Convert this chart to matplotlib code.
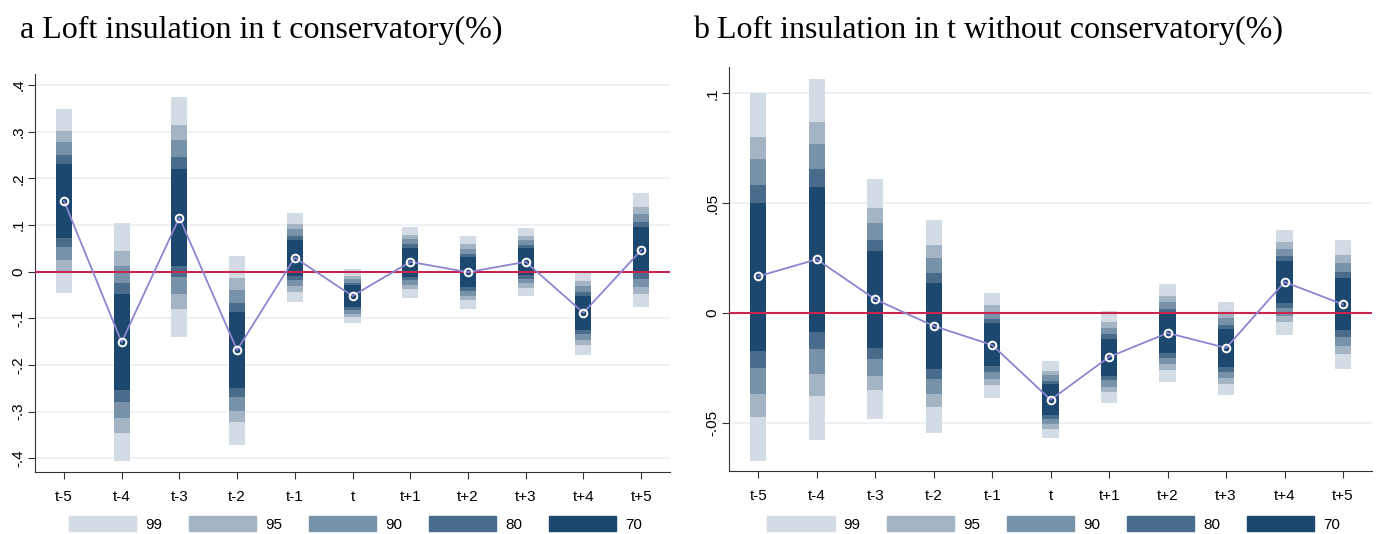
import numpy as np
import matplotlib
matplotlib.use('Agg')
from matplotlib import pyplot as plt
from matplotlib.patches import Patch

periods = ['t-5', 't-4', 't-3', 't-2', 't-1', 't', 't+1', 't+2', 't+3', 't+4', 't+5']
levels = ['99', '95', '90', '80', '70']

# panel a: point estimates and (low, high) for each confidence level
a_coef = [0.152, -0.151, 0.116, -0.168, 0.030, -0.052, 0.021, -0.001, 0.021, -0.088, 0.046]
a_hi = {
    '99': [0.349, 0.104, 0.374, 0.034, 0.126, 0.006, 0.096, 0.076, 0.094, 0.001, 0.169],
    '95': [0.301, 0.044, 0.314, -0.014, 0.102, -0.009, 0.079, 0.059, 0.076, -0.020, 0.139],
    '90': [0.278, 0.012, 0.282, -0.039, 0.091, -0.016, 0.070, 0.049, 0.068, -0.031, 0.124],
    '80': [0.250, -0.024, 0.246, -0.067, 0.076, -0.024, 0.059, 0.038, 0.057, -0.044, 0.106],
    '70': [0.231, -0.048, 0.220, -0.086, 0.068, -0.029, 0.051, 0.031, 0.051, -0.052, 0.096],
}
a_lo = {
    '99': [-0.045, -0.406, -0.141, -0.371, -0.065, -0.110, -0.056, -0.080, -0.052, -0.179, -0.076],
    '95': [0.001, -0.346, -0.080, -0.322, -0.044, -0.097, -0.037, -0.061, -0.035, -0.157, -0.048],
    '90': [0.025, -0.314, -0.048, -0.299, -0.031, -0.091, -0.029, -0.052, -0.024, -0.146, -0.033],
    '80': [0.053, -0.279, -0.011, -0.269, -0.018, -0.082, -0.018, -0.041, -0.016, -0.134, -0.016],
    '70': [0.072, -0.254, 0.012, -0.249, -0.009, -0.076, -0.011, -0.033, -0.007, -0.125, -0.003],
}

# panel b
b_coef = [0.0167, 0.0244, 0.0062, -0.0059, -0.0146, -0.0395, -0.0200, -0.0091, -0.0159, 0.0141, 0.0039]
b_hi = {
    '99': [0.1002, 0.1065, 0.0610, 0.0423, 0.0091, -0.0219, 0.0009, 0.0132, 0.0050, 0.0378, 0.0332],
    '95': [0.0801, 0.0870, 0.0478, 0.0310, 0.0036, -0.0264, -0.0041, 0.0077, 0.0000, 0.0323, 0.0264],
    '90': [0.0701, 0.0769, 0.0410, 0.0250, 0.0005, -0.0282, -0.0068, 0.0050, -0.0023, 0.0291, 0.0228],
    '80': [0.0583, 0.0656, 0.0332, 0.0182, -0.0027, -0.0310, -0.0096, 0.0018, -0.0055, 0.0259, 0.0187],
    '70': [0.0501, 0.0574, 0.0282, 0.0137, -0.0046, -0.0323, -0.0118, 0.0000, -0.0073, 0.0237, 0.0159],
}
b_lo = {
    '99': [-0.0674, -0.0578, -0.0483, -0.0546, -0.0387, -0.0569, -0.0410, -0.0314, -0.0373, -0.0100, -0.0255],
    '95': [-0.0473, -0.0378, -0.0351, -0.0428, -0.0328, -0.0528, -0.0360, -0.0259, -0.0323, -0.0041, -0.0187],
    '90': [-0.0369, -0.0278, -0.0287, -0.0369, -0.0300, -0.0505, -0.0337, -0.0232, -0.0296, -0.0014, -0.0150],
    '80': [-0.0250, -0.0164, -0.0209, -0.0300, -0.0269, -0.0483, -0.0305, -0.0205, -0.0269, 0.0023, -0.0109],
    '70': [-0.0173, -0.0086, -0.0159, -0.0255, -0.0241, -0.0464, -0.0287, -0.0182, -0.0246, 0.0046, -0.0077],
}

colors = {'99': '#d3dbe4', '95': '#a4b4c4', '90': '#7892aa', '80': '#496c8d', '70': '#1c476f'}

tick_font = ['Liberation Sans Narrow', 'Liberation Sans', 'DejaVu Sans']
title_font = ['Liberation Serif', 'DejaVu Serif']


def draw_panel(ax, coef, lo, hi, yticks, ylabels, ylim):
    x = np.arange(len(periods))
    for lev in levels:
        lo_v = np.array(lo[lev])
        hi_v = np.array(hi[lev])
        ax.bar(x, hi_v - lo_v, bottom=lo_v, width=0.28, color=colors[lev],
               label=lev, zorder=2, linewidth=0)
    ax.axhline(0, color='#c8264f', lw=1.5, zorder=3)
    ax.plot(x, coef, '-', color='#8c85d0', lw=1.3, zorder=4)
    ax.plot(x, coef, 'o', ms=5.5, mfc='none', mec='white', mew=1.4, zorder=5)
    ax.set_xlim(-0.5, 10.5)
    ax.set_ylim(*ylim)
    ax.set_xticks(x)
    ax.set_xticklabels(periods, family=tick_font, fontsize=11)
    ax.set_yticks(yticks)
    ax.set_yticklabels(ylabels, rotation=90, va='center', family=tick_font, fontsize=11)
    ax.grid(axis='y', color='#eaf1f4', lw=1.3, zorder=0)
    ax.set_axisbelow(True)
    ax.spines['top'].set_visible(False)
    ax.spines['right'].set_visible(False)
    ax.spines['left'].set_color('#333333')
    ax.spines['bottom'].set_color('#333333')
    ax.tick_params(axis='x', length=5, color='#333333', pad=8)
    ax.tick_params(axis='y', length=5, color='#333333', pad=2)
    handles = [Patch(color=colors[l], label=l) for l in levels]
    ax.legend(handles=handles, loc='center', bbox_to_anchor=(0.505, -0.1315), ncol=5,
              frameon=False, handlelength=4.4, handleheight=1.1, handletextpad=0.6,
              columnspacing=1.74, prop={'family': tick_font, 'size': 11})


fig = plt.figure(figsize=(13.8, 5.34), dpi=100)
ax1 = fig.add_axes([0.0254, 0.1167, 0.4601, 0.7447])
ax2 = fig.add_axes([0.5283, 0.118, 0.4661, 0.756])

draw_panel(ax1, a_coef, a_lo, a_hi,
           [-0.4, -0.3, -0.2, -0.1, 0, 0.1, 0.2, 0.3, 0.4],
           ['-.4', '-.3', '-.2', '-.1', '0', '.1', '.2', '.3', '.4'],
           (-0.4286, 0.4236))
draw_panel(ax2, b_coef, b_lo, b_hi,
           [-0.05, 0, 0.05, 0.1],
           ['-.05', '0', '.05', '.1'],
           (-0.0719, 0.1118))

fig.text(20 / 1380, 1 - 38 / 534, 'a Loft insulation in t conservatory(%)',
         fontsize=23, family=title_font, va='baseline', ha='left')
fig.text(693 / 1380, 1 - 38 / 534, 'b Loft insulation in t without conservatory(%)',
         fontsize=23, family=title_font, va='baseline', ha='left')

fig.savefig('out.png', dpi=100)
